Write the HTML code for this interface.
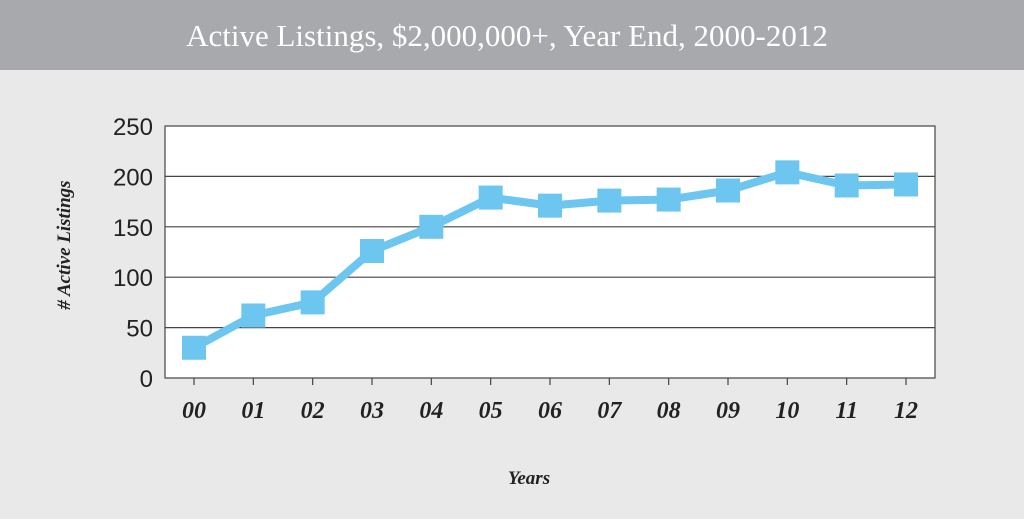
<!DOCTYPE html>
<html><head><meta charset="utf-8"><style>
body{margin:0;width:1024px;height:519px;background:#e9e9ea;overflow:hidden}
svg{display:block}
</style></head><body>
<svg width="1024" height="519" xmlns="http://www.w3.org/2000/svg">
<rect x="0" y="0" width="1024" height="519" fill="#e9e9ea"/>
<rect x="0" y="0" width="1024" height="70" fill="#a7a9ac"/>
<text x="507" y="46" text-anchor="middle" fill="#fff" font-family="Liberation Serif, serif" font-size="31">Active Listings, $2,000,000+, Year End, 2000-2012</text>
<rect x="165" y="126" width="770" height="252" fill="#fff" stroke="#444" stroke-width="1.2"/>
<g id="grid"></g><g id="yt"></g><g id="xt"></g><g id="series"></g>
<text transform="translate(70,245) rotate(-90)" text-anchor="middle" font-family="Liberation Serif, serif" font-style="italic" font-weight="bold" font-size="19" fill="#222"># Active Listings</text>
<text x="529" y="484" text-anchor="middle" font-family="Liberation Serif, serif" font-style="italic" font-weight="bold" font-size="19" fill="#222">Years</text>
</svg>
<script>
const categories=["00","01","02","03","04","05","06","07","08","09","10","11","12"];
const values=[30,62,75,126,150,179,171,176,177,186,204,191,192];
const yTicks=[0,50,100,150,200,250];
const NS="http://www.w3.org/2000/svg";
const L=165,R=935,T=126,B=378,yMax=250;
const x0=194,dx=(906-194)/12;
function xs(i){return x0+i*dx;}
function ys(v){return B-(v/yMax)*(B-T);}
function mk(t,a,p){const e=document.createElementNS(NS,t);for(const k in a)e.setAttribute(k,a[k]);p.appendChild(e);return e;}
const grid=document.getElementById('grid'),yt=document.getElementById('yt'),xt=document.getElementById('xt'),sr=document.getElementById('series');
yTicks.forEach(v=>{
 if(v>0&&v<yMax){const g=mk('line',{x1:L,x2:R,y1:ys(v),y2:ys(v),stroke:'#444','stroke-width':1.2},grid);
 
 }
 const t=mk('text',{x:153,y:ys(v)+9,'text-anchor':'end','font-family':'Liberation Sans, sans-serif','font-size':24,fill:'#222'},yt);
 t.textContent=v;
 
 
});
categories.forEach((c,i)=>{
 const tk=mk('line',{x1:xs(i),x2:xs(i),y1:B,y2:B+7,stroke:'#444','stroke-width':1.2},xt);
 
 
 const t=mk('text',{x:xs(i),y:418,'text-anchor':'middle','font-family':'Liberation Serif, serif','font-style':'italic','font-weight':'bold','font-size':24,fill:'#222'},xt);
 t.textContent=c;
 
 
});
const pl=mk('polyline',{points:values.map((v,i)=>xs(i)+','+ys(v)).join(' '),fill:'none',stroke:'#6cc6ef','stroke-width':8,'stroke-linejoin':'round'},sr);


values.forEach((v,i)=>{
 const r=mk('rect',{x:xs(i)-12,y:ys(v)-12,width:24,height:24,fill:'#6cc6ef'},sr);
 
 
});
</script>
</body></html>
